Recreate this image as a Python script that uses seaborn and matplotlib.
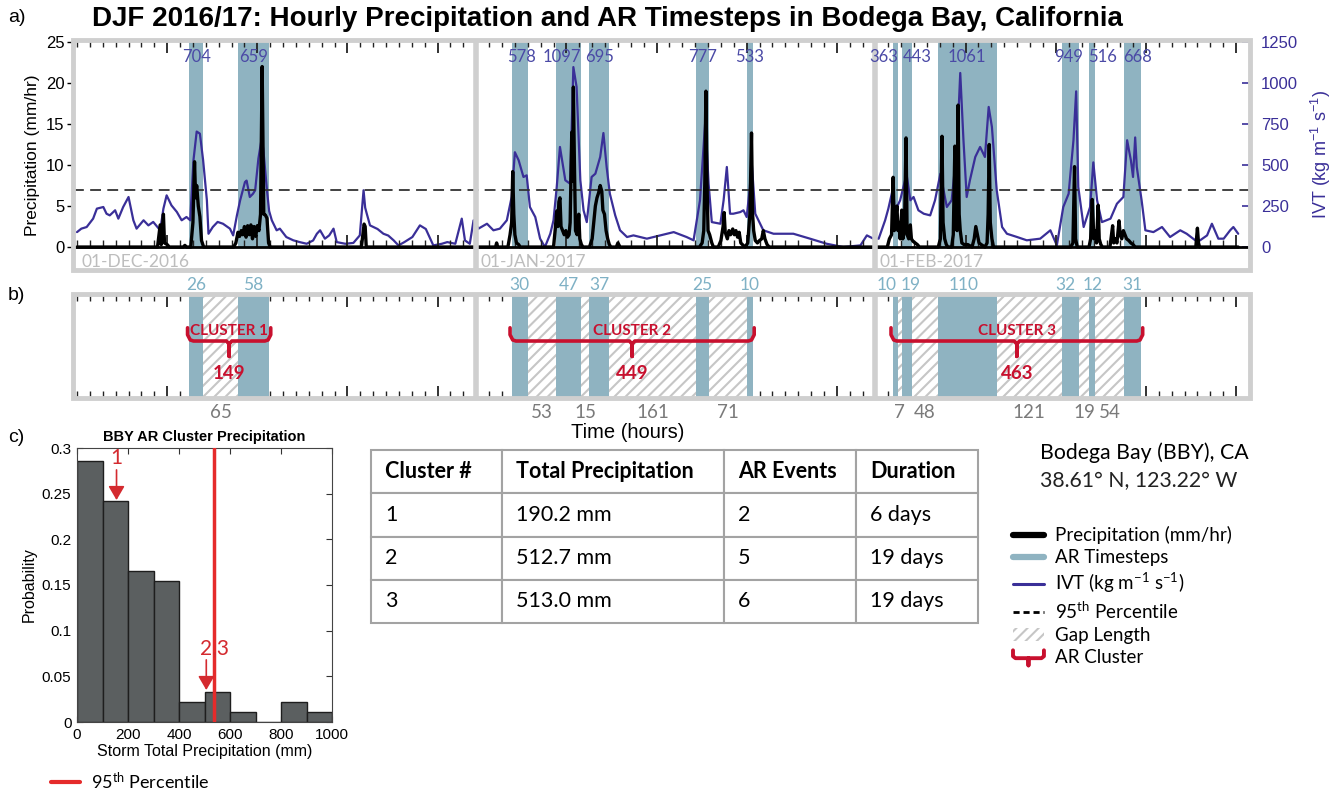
import numpy as np
import pandas as pd
import matplotlib
matplotlib.use("Agg")
import matplotlib.pyplot as plt
import matplotlib.transforms as mtransforms
from matplotlib.patches import Rectangle, Patch
from matplotlib.lines import Line2D
from matplotlib.legend_handler import HandlerBase
from matplotlib.ticker import FuncFormatter
import seaborn as sns

# ------------------------------------------------------------------ data
month_start_hours = [0, 744, 1488]
month_labels = ["01-DEC-2016", "01-JAN-2017", "01-FEB-2017"]
season_end_hour = 2160

# AR timesteps (hours since 01-DEC-2016 00Z), peak IVT and cluster membership
ar_start = [209, 300, 810, 893, 955, 1153, 1249, 1520, 1537, 1604, 1835, 1886, 1952]
ar_end = [235, 358, 840, 940, 992, 1178, 1259, 1530, 1556, 1714, 1867, 1898, 1983]
ar_ivt_max = [704, 659, 578, 1097, 695, 777, 533, 363, 443, 1061, 949, 516, 668]
ar_cluster = [1, 1, 2, 2, 2, 2, 2, 3, 3, 3, 3, 3, 3]

# IVT (kg m-1 s-1)
ivt_hour = [
    0, 8, 18, 30, 37, 49, 55, 61, 71, 77,
    86, 96, 105, 111, 124, 133, 142, 155, 161, 167,
    176, 186, 195, 204, 211, 217, 223, 229, 235, 242,
    245, 253, 262, 272, 285, 291, 298, 304, 313, 316,
    322, 328, 332, 338, 344, 347, 354, 358, 363, 372,
    378, 390, 403, 415, 428, 440, 447, 453, 462, 470,
    478, 484, 500, 515, 527, 534, 537, 540, 546, 560,
    571, 580, 590, 599, 610, 625, 639, 650, 664, 680,
    690, 705, 717, 723, 732, 739,
    748, 764, 776, 788, 801, 810, 816, 823, 832, 838,
    844, 854, 863, 872, 882, 888, 894, 900, 910, 919,
    925, 931, 938, 944, 950, 959, 966, 975, 981, 987,
    993, 1003, 1012, 1025, 1037, 1062, 1087, 1112, 1136, 1149,
    1161, 1171, 1177, 1183, 1199, 1205, 1211, 1217, 1223, 1236,
    1242, 1248, 1254, 1257, 1264, 1270, 1279, 1298, 1335, 1366,
    1397, 1428, 1460, 1472, 1484,
    1494, 1506, 1512, 1521, 1524, 1528, 1534, 1540, 1546, 1553,
    1559, 1568, 1578, 1590, 1599, 1609, 1621, 1630, 1640, 1646,
    1652, 1658, 1664, 1674, 1683, 1692, 1699, 1705, 1714, 1724,
    1733, 1752, 1770, 1795, 1814, 1826, 1838, 1848, 1857, 1862,
    1866, 1876, 1888, 1894, 1901, 1910, 1926, 1938, 1950, 1957,
    1964, 1968, 1972, 1975, 1984, 1991, 2006, 2022, 2037, 2056,
    2068, 2084, 2093, 2106, 2115, 2127, 2137, 2149, 2155, 2164,
]
ivt_value = [
    91, 112, 122, 173, 234, 244, 203, 193, 224, 173,
    244, 305, 163, 112, 163, 132, 153, 102, 234, 315,
    254, 214, 163, 183, 163, 529, 704, 691, 529, 285,
    81, 122, 153, 142, 112, 71, 193, 285, 396, 405,
    305, 325, 346, 539, 659, 600, 346, 220, 163, 102,
    112, 61, 41, 30, 20, 40, 81, 102, 51, 71,
    112, 30, 20, 25, 71, 346, 240, 203, 132, 110,
    81, 70, 41, 10, 30, 61, 132, 110, 10, 20,
    30, 20, 173, 40, 20, 163,
    112, 142, 102, 112, 163, 305, 578, 529, 427, 437,
    244, 183, 51, 0, 81, 163, 366, 610, 407, 386,
    1097, 976, 407, 224, 152, 427, 447, 549, 695, 488,
    325, 193, 102, 61, 71, 51, 71, 91, 61, 41,
    285, 777, 386, 152, 142, 285, 488, 203, 203, 213,
    224, 183, 366, 533, 203, 163, 102, 81, 81, 51,
    20, 0, 10, 71, 51,
    51, 163, 234, 363, 203, 244, 285, 366, 443, 285,
    305, 224, 203, 193, 285, 447, 244, 285, 610, 1061,
    651, 305, 407, 549, 610, 549, 854, 732, 346, 122,
    81, 61, 41, 51, 102, 10, 244, 325, 651, 949,
    366, 122, 244, 516, 285, 152, 173, 264, 305, 651,
    529, 427, 668, 488, 285, 102, 91, 122, 61, 102,
    81, 41, 41, 71, 142, 51, 51, 102, 122, 81,
]

# hourly precipitation (mm/hr)
precip_hour = [
    0,
    150, 155, 157, 161, 163, 168, 172,
    198, 201, 204,
    212, 216, 219, 221, 223, 226, 229, 232, 236,
    292, 296, 300, 303, 306, 309, 312, 315, 318, 321, 324, 327, 330, 333, 336, 339, 342, 345, 348, 351, 354, 357, 360,
    530, 535, 537, 539,
    780, 782, 784,
    803, 807, 810, 812, 814, 816, 819, 823, 826,
    888, 891, 894, 896, 898, 900, 902, 905, 908, 911, 914, 917, 919, 922, 924, 925, 927, 929, 932, 935, 937, 940, 943,
    955, 960, 963, 966, 969, 972, 975, 978, 980, 983, 986, 989, 992, 995,
    1005, 1008, 1012,
    1160, 1165, 1168, 1170, 1172, 1174, 1176, 1179, 1183, 1186,
    1195, 1200, 1204, 1206, 1208, 1212, 1215, 1218, 1222, 1225, 1228, 1231, 1234, 1237, 1240, 1245,
    1250, 1254, 1257, 1259, 1261, 1264, 1268, 1272, 1276, 1279, 1282, 1286, 1290,
    1510, 1514, 1518, 1521, 1523, 1525, 1528, 1530, 1532, 1534, 1537, 1539, 1542, 1545, 1547, 1550, 1553, 1555, 1558, 1562, 1566, 1570,
    1605, 1609, 1612, 1614, 1617, 1620, 1623,
    1630, 1633, 1636, 1638, 1640, 1642, 1644, 1646, 1649, 1653, 1660,
    1668, 1672, 1675, 1678, 1681, 1685, 1692,
    1696, 1698, 1700, 1702, 1705, 1708,
    1852, 1856, 1859, 1861, 1864,
    1886, 1889, 1892, 1895, 1898, 1900, 1903, 1905, 1908, 1911,
    1925, 1930, 1932, 1935, 1938, 1942, 1944, 1947, 1950, 1953, 1956, 1960, 1964, 1968, 1972,
    2085, 2088, 2090, 2092,
    2164,
]
precip_mm = [
    0,
    0, 2.7, 0.3, 4.0, 0.5, 0.3, 0,
    0, 0.2, 0,
    0, 3.0, 10.4, 6.0, 7.5, 5.0, 3.7, 0.8, 0,
    0, 0.5, 1.8, 1.3, 2.0, 1.5, 2.5, 1.2, 2.6, 1.5, 2.7, 1.0, 2.5, 1.3, 2.6, 2.0, 4.0, 22.0, 4.0, 3.9, 3.5, 0.5, 0,
    0, 2.8, 2.5, 0,
    0, 0.5, 0,
    0, 1.5, 3.0, 9.2, 4.0, 1.5, 0.5, 0.3, 0,
    0, 2.0, 4.4, 2.5, 5.5, 6.0, 2.5, 2.0, 1.5, 2.0, 1.2, 1.5, 3.0, 14.0, 8.0, 19.5, 10.0, 2.0, 1.5, 4.0, 1.0, 0.3, 0,
    0, 1.0, 3.0, 5.0, 6.0, 6.6, 7.5, 6.8, 4.5, 4.0, 2.0, 1.0, 0.3, 0,
    0, 0.5, 0,
    0, 0.5, 2.0, 8.0, 19.0, 8.0, 2.0, 1.5, 0.5, 0,
    0, 0.8, 2.5, 4.2, 1.8, 1.0, 2.0, 1.5, 2.2, 1.5, 2.0, 1.2, 1.8, 0.5, 0.3, 0,
    0.5, 4.0, 13.9, 4.0, 2.0, 0.8, 0.5, 0.8, 1.0, 2.0, 1.0, 0.3, 0,
    0, 1.0, 1.5, 8.5, 2.0, 3.0, 5.0, 2.0, 3.0, 1.0, 4.5, 1.0, 2.0, 13.3, 1.5, 1.0, 2.7, 1.0, 0.7, 0.5, 0.3, 0,
    0, 1.0, 13.5, 3.0, 1.0, 0.3, 0,
    0, 1.5, 12.3, 3.0, 2.0, 17.3, 4.0, 2.0, 0.5, 0.3, 0.3,
    0, 1.0, 2.5, 1.5, 0.5, 0.3, 0,
    0.5, 4.0, 12.5, 3.0, 1.0, 0,
    0, 0.5, 9.8, 1.0, 0,
    0, 1.0, 5.8, 1.0, 2.0, 0.5, 5.1, 1.0, 0.3, 0,
    0, 2.6, 0.5, 1.0, 0.5, 3.2, 1.5, 1.0, 2.0, 1.5, 1.0, 0.8, 0.5, 0.3, 0,
    0, 2.3, 0.5, 0,
    0,
]
precip_p95 = 7.0  # mm/hr (= 350 kg m-1 s-1 on the IVT axis)

# panel c histogram
hist_bin_edges = [0, 100, 200, 300, 400, 500, 600, 700, 800, 900, 1000]
hist_prob = [0.286, 0.242, 0.165, 0.154, 0.022, 0.033, 0.011, 0.0, 0.022, 0.011]
hist_p95_mm = 537
cluster_marker_mm = [155, 507]
cluster_marker_prob = [0.243, 0.035]
cluster_marker_text = ["1", "2,3"]

# table
table_columns = ["Cluster #", "Total Precipitation", "AR Events", "Duration"]
table_rows = [
    ["1", "190.2 mm", "2", "6 days"],
    ["2", "512.7 mm", "5", "19 days"],
    ["3", "513.0 mm", "6", "19 days"],
]

station_name = "Bodega Bay (BBY), CA"
station_coords = "38.61\u00b0 N, 123.22\u00b0 W"

# ------------------------------------------------------------------ style
sns.set_theme(style="ticks")
plt.rcParams["font.family"] = ["Liberation Sans", "DejaVu Sans"]
plt.rcParams["mathtext.default"] = "regular"
plt.rcParams["hatch.linewidth"] = 1.5
for k in ["text.color", "axes.labelcolor", "xtick.color", "ytick.color"]:
    plt.rcParams[k] = "black"

FRAME = "#cfcfcf"
AR_COLOR = "#8fb3c1"
IVT_COLOR = "#3a2f98"
IVT_LABEL = "#4b4aa6"
DUR_COLOR = "#7fb1c5"
GAP_COLOR = "#7a7a7a"
RED = "#c8102e"
RED_LINE = "#e52b2b"
HATCH_COLOR = "#c6c6c6"
BAR = "#5b5f60"
ANNOT = ["Lato", "DejaVu Sans"]

W, H = 1344, 793
fig = plt.figure(figsize=(W / 100, H / 100), dpi=100)
fig.patch.set_facecolor("white")


def fx(px):
    return px / W


def fy(py):
    return 1 - py / H


XLIM = (-7.5, 2186)
major_ticks = [m + 168 * k for m in month_start_hours for k in (1, 2, 3, 4)
               if m + 168 * k <= season_end_hour]
minor_ticks = list(range(0, season_end_hour + 1, 24))

# ------------------------------------------------------------------ panel a
ax_pr = fig.add_axes([fx(73), fy(270), (1250 - 73) / W, (270 - 40) / H])
ax_iv = ax_pr.twinx()
PR_LIM = (-2.80, 25.24)
IV_LIM = (PR_LIM[0] * 50, PR_LIM[1] * 50)

ax_pr.set_zorder(ax_iv.get_zorder() + 1)
ax_pr.patch.set_visible(False)

zero_frac = -PR_LIM[0] / (PR_LIM[1] - PR_LIM[0])
for s, e in zip(ar_start, ar_end):
    ax_iv.axvspan(s, e, ymin=zero_frac, ymax=1, color=AR_COLOR, lw=0, zorder=0)

sns.lineplot(x=ivt_hour, y=ivt_value, ax=ax_iv, color=IVT_COLOR, lw=1.6,
             estimator=None, sort=False, zorder=2)
sns.lineplot(x=precip_hour, y=precip_mm, ax=ax_pr, color="black", lw=2.4,
             estimator=None, sort=False, zorder=3)
ax_pr.axhline(precip_p95, color="#333333", lw=1.3, ls=(0, (6, 3.5)), zorder=2)

ax_pr.set_xlim(*XLIM)
ax_pr.set_ylim(*PR_LIM)
ax_iv.set_ylim(*IV_LIM)

for sp in ax_pr.spines.values():
    sp.set_visible(False)
for sp in ax_iv.spines.values():
    sp.set_visible(False)
ax_pr.spines["bottom"].set_visible(True)
ax_pr.spines["bottom"].set_position(("data", 0))
ax_pr.spines["bottom"].set_color("black")
ax_pr.spines["bottom"].set_linewidth(2.0)

ax_pr.set_xticks(major_ticks)
ax_pr.set_xticks(minor_ticks, minor=True)
ax_pr.tick_params(axis="x", which="both", direction="in", top=True, bottom=True,
                  labelbottom=False, labeltop=False, color="#222222")
ax_pr.tick_params(axis="x", which="major", length=9, width=1.3)
ax_pr.tick_params(axis="x", which="minor", length=5, width=1.0)
ax_pr.set_yticks(range(0, 26, 5))
ax_pr.tick_params(axis="y", direction="out", length=4, width=1, labelsize=12,
                  left=True, right=False, pad=2, color="black")
ax_iv.set_yticks(range(0, 1251, 250))
ax_iv.tick_params(axis="y", direction="in", length=6, width=1.2, color=IVT_COLOR,
                  labelcolor=IVT_COLOR, labelsize=12, right=True, left=False, pad=8)
ax_pr.set_xlabel("")
ax_pr.set_ylabel("Precipitation (mm/hr)", fontsize=12.5, labelpad=4)
ax_iv.set_ylabel("IVT (kg m$^{-1}$ s$^{-1}$)", fontsize=13, color=IVT_COLOR, labelpad=8)

blend_a = mtransforms.blended_transform_factory(ax_pr.transData, ax_pr.transAxes)
ivt_label_dx = [0, 0, 2, -7, 0, 0, 0, -12, 10, 0, -2, 10, 5]  # px nudges
for s, e, v, dx in zip(ar_start, ar_end, ar_ivt_max, ivt_label_dx):
    ax_pr.annotate(str(v), xy=((s + e) / 2, 0.925), xycoords=blend_a,
                   xytext=(dx * 0.72, 0), textcoords="offset points",
                   ha="center", va="center", color=IVT_LABEL, fontsize=12,
                   family=ANNOT, zorder=7)

for m in month_start_hours[1:]:
    ax_pr.axvline(m, color=FRAME, lw=4, zorder=5)
for m, lab in zip(month_start_hours, month_labels):
    ax_pr.text(m + 8, 0.035, lab, transform=blend_a, ha="left", va="center",
               color="#bdbdbd", fontsize=12.5, family=ANNOT, zorder=6)
ax_pr.add_patch(Rectangle((0, 0), 1, 1, transform=ax_pr.transAxes, fill=False,
                          edgecolor=FRAME, lw=3.5, clip_on=False, zorder=6))

# ------------------------------------------------------------------ panel b
ax_b = fig.add_axes([fx(73), fy(398), (1250 - 73) / W, (398 - 294) / H])
ax_b.set_xlim(*XLIM)
ax_b.set_ylim(0, 1)
for s, e in zip(ar_start, ar_end):
    ax_b.axvspan(s, e, color=AR_COLOR, lw=0, zorder=1)
gap_spans = []
for i in range(len(ar_start) - 1):
    if ar_cluster[i] == ar_cluster[i + 1]:
        gs, ge = ar_end[i], ar_start[i + 1]
        gap_spans.append((gs, ge))
        ax_b.axvspan(gs, ge, facecolor="white", edgecolor=HATCH_COLOR,
                     hatch="///", lw=0, zorder=1)

for sp in ax_b.spines.values():
    sp.set_visible(False)
ax_b.set_xticks(major_ticks)
ax_b.set_xticks(minor_ticks, minor=True)
ax_b.tick_params(axis="x", which="both", direction="in", top=True, bottom=True,
                 labelbottom=False, labeltop=False, color="#222222")
ax_b.tick_params(axis="x", which="major", length=9, width=1.3)
ax_b.tick_params(axis="x", which="minor", length=5, width=1.0)
ax_b.tick_params(axis="y", left=False, right=False, labelleft=False)
for m in month_start_hours[1:]:
    ax_b.axvline(m, color=FRAME, lw=4, zorder=5)
ax_b.add_patch(Rectangle((0, 0), 1, 1, transform=ax_b.transAxes, fill=False,
                         edgecolor=FRAME, lw=3.5, clip_on=False, zorder=6))

blend_b = mtransforms.blended_transform_factory(ax_b.transData, ax_b.transAxes)
dur_label_dx = [0, 0, 0, 0, 0, 0, 0, -9, 4, -4, -5, 0, 0]
for s, e, dx in zip(ar_start, ar_end, dur_label_dx):
    ax_b.annotate(str(e - s), xy=((s + e) / 2, 1.087), xycoords=blend_b,
                  xytext=(dx * 0.72, 0), textcoords="offset points",
                  ha="center", va="center", color=DUR_COLOR, fontsize=12.5,
                  family=ANNOT, annotation_clip=False)
for gs, ge in gap_spans:
    ax_b.text((gs + ge) / 2, -0.135, str(ge - gs), transform=blend_b,
              ha="center", va="center", color=GAP_COLOR, fontsize=13.5, family=ANNOT)

# cluster braces
for c in sorted(set(ar_cluster)):
    cs = min(s for s, k in zip(ar_start, ar_cluster) if k == c)
    ce = max(e for e, k in zip(ar_end, ar_cluster) if k == c)
    cm = (cs + ce) / 2
    total = ce - cs
    yh, ytop, ystem = 0.548, 0.675, 0.40
    xs = [cs - 3, cs - 3, cs + 2, cs + 8, cm - 5, cm, cm, cm, cm + 5, ce - 8, ce - 2, ce + 3, ce + 3]
    ys = [ytop, yh + 0.06, yh + 0.01, yh, yh, yh - 0.03, ystem, yh - 0.03, yh, yh, yh + 0.01, yh + 0.06, ytop]
    ax_b.plot(xs, ys, transform=blend_b, color=RED, lw=2.6, solid_joinstyle="round",
              clip_on=False, zorder=8)
    ax_b.text(cm, 0.645, f"CLUSTER {c}", transform=blend_b, ha="center", va="center",
              color=RED, fontsize=11, fontweight="bold", family=ANNOT, zorder=8)
    ax_b.text(cm, 0.24, str(total), transform=blend_b, ha="center", va="center",
              color=RED, fontsize=13.5, fontweight="bold", family=ANNOT, zorder=8)

# ------------------------------------------------------------------ panel c
ax_c = fig.add_axes([fx(77), fy(722), (332 - 77) / W, (722 - 448) / H])
centers = [(a + b) / 2 for a, b in zip(hist_bin_edges[:-1], hist_bin_edges[1:])]
sns.histplot(x=centers, weights=hist_prob, bins=hist_bin_edges, ax=ax_c,
             color=BAR, edgecolor="#1e1e1e", linewidth=1.0, alpha=1.0)
ax_c.axvline(hist_p95_mm, color=RED_LINE, lw=2.5, zorder=4)
ax_c.set_xlim(0, 1000)
ax_c.set_ylim(0, 0.3)
ax_c.set_xticks(range(0, 1001, 200))
ax_c.set_yticks([0, 0.05, 0.1, 0.15, 0.2, 0.25, 0.3])
ax_c.yaxis.set_major_formatter(FuncFormatter(lambda v, p: f"{v:g}"))
ax_c.tick_params(direction="in", top=True, right=True, length=4, width=0.8,
                 labelsize=11, color="#333333", pad=4)
for sp in ax_c.spines.values():
    sp.set_color("#444444")
    sp.set_linewidth(0.8)
ax_c.set_xlabel("Storm Total Precipitation (mm)", fontsize=11.5, labelpad=2)
ax_c.set_ylabel("Probability", fontsize=11.5, labelpad=4)
ax_c.set_title("BBY AR Cluster Precipitation", fontsize=10.5, fontweight="bold", pad=5)
marker_text_dx = [0, 8]  # px nudges
for mm, p, t, dx in zip(cluster_marker_mm, cluster_marker_prob, cluster_marker_text, marker_text_dx):
    ax_c.annotate("", xy=(mm, p), xytext=(mm, p + 0.033),
                  arrowprops=dict(arrowstyle="-|>,head_length=0.6,head_width=0.35",
                                  color="#d42a2f", lw=1.2, shrinkA=0, shrinkB=0,
                                  mutation_scale=14), zorder=6)
    ax_c.annotate(t, xy=(mm, p + 0.046), xytext=(dx * 0.72, 0), textcoords="offset points",
                  ha="center", va="center", color="#d42a2f", fontsize=15,
                  family=ANNOT, zorder=6)

# ------------------------------------------------------------------ table
ax_t = fig.add_axes([fx(371), fy(623), (978 - 371) / W, (623 - 450) / H])
ax_t.axis("off")
col_px = [131, 222, 132, 122]
tbl = ax_t.table(cellText=table_rows, colLabels=table_columns,
                 colWidths=[c / sum(col_px) for c in col_px],
                 bbox=[0, 0, 1, 1], cellLoc="left", colLoc="left")
tbl.auto_set_font_size(False)
for (r, c), cell in tbl.get_celld().items():
    cell.set_edgecolor("#a3a3a3")
    cell.set_linewidth(1.5)
    cell.PAD = 14 / col_px[c]
    txt = cell.get_text()
    txt.set_fontfamily(ANNOT)
    txt.set_fontsize(15.5)
    txt.set_color("black")
    txt.set_horizontalalignment("left")
    if r == 0:
        txt.set_fontweight("bold")

# ------------------------------------------------------------------ legends & texts


class BraceProxy:
    pass


class BraceHandler(HandlerBase):
    def create_artists(self, legend, orig_handle, xdescent, ydescent, width, height,
                       fontsize, trans):
        x0 = -xdescent
        x1 = x0 + width
        xm = (x0 + x1) / 2
        y0 = -ydescent
        xs = [x0, x0, x0 + 0.08 * width, xm, xm, xm, x1 - 0.08 * width, x1, x1]
        ys = [y0 + 0.95 * height, y0 + 0.5 * height, y0 + 0.35 * height,
              y0 + 0.35 * height, y0 - 0.2 * height, y0 + 0.35 * height,
              y0 + 0.35 * height, y0 + 0.5 * height, y0 + 0.95 * height]
        return [Line2D(xs, ys, color=RED, lw=2.8, transform=trans)]


legend_handles = [
    Line2D([], [], color="black", lw=4.5),
    Line2D([], [], color=AR_COLOR, lw=4.5),
    Line2D([], [], color=IVT_COLOR, lw=2.2),
    Line2D([], [], color="black", lw=2.0, ls=(0, (2.2, 1.4))),
    Patch(facecolor="white", edgecolor=HATCH_COLOR, hatch="///", lw=0),
    BraceProxy(),
]
legend_labels = ["Precipitation (mm/hr)", "AR Timesteps", "IVT (kg m$^{-1}$ s$^{-1}$)",
                 "95$^{th}$ Percentile", "Gap Length", "AR Cluster"]
fig.legend(legend_handles, legend_labels, loc="upper left",
           bbox_to_anchor=(fx(1013), fy(526)), frameon=False,
           prop={"family": ANNOT, "size": 13.5}, handlelength=1.65, handleheight=0.7,
           handletextpad=0.6, labelspacing=0.27, borderaxespad=0, borderpad=0,
           handler_map={BraceProxy: BraceHandler()})

fig.legend([Line2D([], [], color=RED_LINE, lw=3)], ["95$^{th}$ Percentile"],
           loc="center left", bbox_to_anchor=(fx(51), fy(781)), frameon=False,
           prop={"family": ANNOT, "size": 13}, handlelength=1.6, handletextpad=0.6,
           borderaxespad=0, borderpad=0)

fig.text(fx(1040), fy(453), station_name, fontsize=15.3, family=ANNOT, va="center")
fig.text(fx(1040), fy(481), station_coords, fontsize=15.3, family=ANNOT, va="center",
         color="#222222")

fig.text(fx(92), fy(19), "DJF 2016/17: Hourly Precipitation and AR Timesteps in Bodega Bay, California",
         fontsize=20, fontweight="bold", ha="left", va="center")
fig.text(fx(8), fy(18), "a)", fontsize=14, ha="left", va="center")
fig.text(fx(8), fy(295), "b)", fontsize=14, ha="left", va="center")
fig.text(fx(8), fy(437), "c)", fontsize=14, ha="left", va="center")
fig.text(fx(628), fy(432), "Time (hours)", fontsize=14.5, ha="center", va="center")

fig.savefig("out.png", dpi=100, facecolor="white")
